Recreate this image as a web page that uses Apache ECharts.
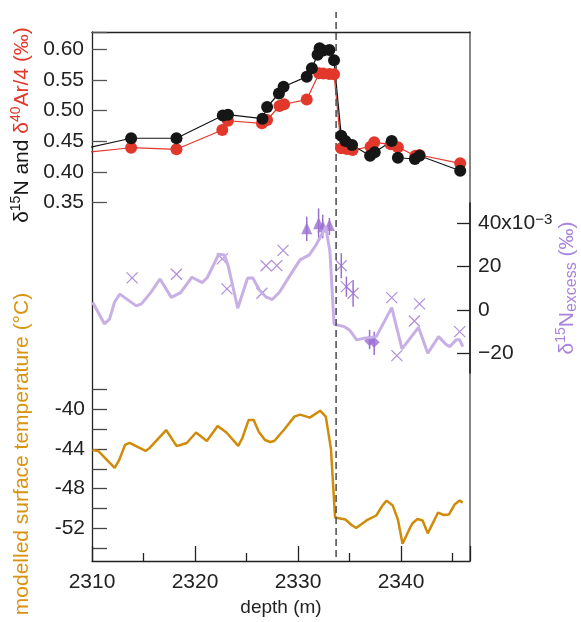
<!DOCTYPE html>
<html>
<head>
<meta charset="utf-8">
<script src="https://cdn.jsdelivr.net/npm/echarts@6/dist/echarts.min.js"></script>
<style>html,body{margin:0;padding:0;background:#fff;}#c{width:581px;height:622px;}</style>
</head>
<body>
<div id="c"></div>
<script>
// ---------- data ----------
const n15Depth = [2307.0, 2313.8, 2318.2, 2322.7, 2323.2, 2326.55, 2327.0, 2328.15, 2328.6, 2330.85, 2331.35, 2331.9, 2332.1, 2332.45, 2333.05, 2333.5, 2334.2, 2334.6, 2335.25, 2337.0, 2337.45, 2339.1, 2339.7, 2341.35, 2341.8, 2345.75];
const n15Value = [0.430, 0.455, 0.455, 0.492, 0.4935, 0.487, 0.506, 0.528, 0.539, 0.5554, 0.569, 0.591, 0.6016, 0.598, 0.599, 0.582, 0.459, 0.4505, 0.444, 0.4266, 0.4321, 0.4505, 0.4233, 0.4212, 0.4266, 0.402];
const arDepth = [2307.0, 2313.8, 2318.2, 2322.65, 2323.2, 2326.5, 2327.0, 2328.2, 2328.65, 2330.85, 2332.05, 2332.45, 2333.05, 2333.5, 2334.2, 2334.75, 2335.3, 2337.05, 2337.4, 2339.0, 2339.7, 2341.4, 2341.8, 2345.75];
const arValue = [0.428, 0.4396, 0.437, 0.4685, 0.4836, 0.4794, 0.4848, 0.5076, 0.5104, 0.518, 0.561, 0.5605, 0.5598, 0.5593, 0.4387, 0.4375, 0.4359, 0.4413, 0.4484, 0.4452, 0.4403, 0.4266, 0.4277, 0.4142];

const exModelDepth = [2310.06, 2311.2, 2311.7, 2312.2, 2312.7, 2314.3, 2314.8, 2315.7, 2316.6, 2317.7, 2318.6, 2319.7, 2320.7, 2321.2, 2322.3, 2322.85, 2323.2, 2324.15, 2325.1, 2325.6, 2326.25, 2326.9, 2327.5, 2328.2, 2329.15, 2330.2, 2331.1, 2331.75, 2332.7, 2333.1, 2333.5, 2334.5, 2335.0, 2335.7, 2336.45, 2337.6, 2339.1, 2340.1, 2341.7, 2342.6, 2343.65, 2344.4, 2344.75, 2345.35, 2345.7, 2346.0];
const exModelValue = [3.6, -6.4, -4.2, 3.8, 7.3, 1.9, 2.8, 8.0, 14.3, 5.8, 8.0, 15.1, 12.6, 15.0, 25.7, 25.4, 20.8, 0.8, 14.6, 14.9, 9.2, 6.0, 4.8, 8.2, 15.4, 23.1, 25.4, 30.0, 38.3, 26.9, -6.6, -7.7, -9.2, -13.8, -13.0, -12.3, 1.1, -18.0, -8.0, -20.0, -12.3, -16.0, -16.9, -13.8, -13.8, -16.9];

const exCrossDepth = [2313.9, 2318.2, 2322.65, 2323.1, 2326.5, 2326.9, 2327.95, 2328.55, 2334.2, 2334.7, 2335.35, 2339.1, 2339.6, 2341.3, 2341.8, 2345.7];
const exCrossValue = [14.8, 16.5, 23.6, 9.7, 7.7, 20.4, 20.5, 27.5, 20.4, 10.8, 7.7, 5.7, -21.1, -5.1, 2.8, -10.0];
const exCrossErrDepth = [2334.2, 2334.7, 2335.35];
const exCrossErrLow = [14.6, 6.1, 1.5];
const exCrossErrHigh = [26.2, 15.4, 13.8];

const exTriDepth = [2330.85, 2332.0, 2332.4, 2333.05];
const exTriValue = [37.7, 40.0, 38.6, 39.2];
const exTriLow = [31.8, 33.1, 33.1, 34.6];
const exTriHigh = [43.1, 46.9, 44.0, 42.5];

const exDiaDepth = [2336.95, 2337.4];
const exDiaValue = [-14.2, -14.9];
const exDiaLow = [-18.1, -20.8];
const exDiaHigh = [-9.2, -10.0];

const tempDepth = [2310.05, 2310.6, 2312.2, 2312.65, 2313.2, 2313.65, 2315.2, 2315.6, 2317.2, 2318.2, 2318.6, 2319.2, 2320.1, 2321.15, 2322.2, 2323.05, 2324.2, 2324.6, 2325.2, 2325.7, 2326.2, 2326.8, 2327.3, 2327.7, 2328.7, 2329.65, 2330.2, 2331.15, 2332.15, 2332.7, 2333.2, 2333.6, 2334.6, 2335.2, 2335.65, 2336.65, 2337.6, 2338.2, 2338.6, 2339.2, 2339.7, 2340.15, 2340.8, 2341.1, 2341.6, 2342.1, 2342.6, 2343.6, 2344.15, 2344.65, 2345.2, 2345.7, 2346.0];
const tempValue = [-44.1, -44.2, -45.9, -45.1, -43.6, -43.4, -44.2, -43.9, -42.1, -43.7, -43.6, -43.4, -42.35, -43.2, -41.7, -42.35, -43.7, -42.9, -41.1, -41.1, -42.3, -43.1, -43.3, -43.2, -42.0, -40.75, -40.55, -40.85, -40.15, -40.75, -44.0, -50.9, -51.1, -51.65, -51.95, -51.2, -50.7, -49.7, -49.2, -49.7, -51.1, -53.55, -52.1, -51.5, -51.05, -51.2, -52.5, -50.4, -50.65, -50.6, -49.6, -49.2, -49.4];

const transitionDepth = [2333.7];

const depthTicks = ['2310', '2320', '2330', '2340'];
const topTickLabels = ['0.35', '0.40', '0.45', '0.50', '0.55', '0.60'];
const excessTickLabels = [-20, 0, 20, 40];
const tempTickLabels = [-40, -44, -48, -52];

// ---------- style ----------
const FONT = "'Liberation Sans', Arial, Helvetica, sans-serif";
const BLACK = '#161616';
const RED = '#e2382b';
const PURPLE = '#9b70d3';
const PURPLE_LIGHT = '#c6b0e6';
const ORANGE = '#d18b0a';
const X_MIN = 2310, X_MAX = 2346.7;
const TICK_FS = 21;

const pairs = (xs, ys) => xs.map((x, i) => [x, ys[i]]);
const triples = (xs, lo, hi) => xs.map((x, i) => [x, lo[i], hi[i]]);

const L = 92, R = 111;
function grid(top, height) {
  return { left: L, right: R, top: top, height: height, containLabel: false, outerBoundsMode: 'none' };
}
function hiddenX(gi) {
  return { type: 'value', gridIndex: gi, min: X_MIN, max: X_MAX, show: false, splitLine: { show: false } };
}

const errRender = (color) => function (params, api) {
  const p1 = api.coord([api.value(0), api.value(1)]);
  const p2 = api.coord([api.value(0), api.value(2)]);
  return { type: 'line', shape: { x1: p1[0], y1: p1[1], x2: p2[0], y2: p2[1] }, style: { stroke: color, lineWidth: 1.5 } };
};

const chart = echarts.init(document.getElementById('c'), null, { renderer: 'canvas' });

const option = {
  backgroundColor: '#ffffff',
  animation: false,
  textStyle: { fontFamily: FONT },
  grid: [
    grid(32, 529),      // 0 frame
    grid(32, 170.7),    // 1 top panel
    grid(223.3, 130),   // 2 excess
    grid(203, 170),     // 3 excess axis line
    grid(389.3, 159),   // 4 temperature
    grid(12, 545)       // 5 transition line
  ],
  xAxis: [
    {
      type: 'value', gridIndex: 0, min: X_MIN, max: X_MAX, interval: 10, position: 'bottom',
      axisLine: { show: true, onZero: false, lineStyle: { color: '#222', width: 1.3 } },
      axisTick: { show: true, inside: true, length: 15, lineStyle: { color: '#222', width: 1.3 } },
      minorTick: { show: true, splitNumber: 2, length: 8, lineStyle: { color: '#222', width: 1.3 } },
      axisLabel: {
        show: true, margin: 11, fontSize: TICK_FS, color: '#222', fontFamily: FONT,
        formatter: v => { const s = String(Math.round(v * 10) / 10); return depthTicks.includes(s) ? s : ''; }
      },
      splitLine: { show: false }, minorSplitLine: { show: false },
      name: 'depth (m)', nameLocation: 'middle', nameGap: 37,
      nameTextStyle: { fontSize: 19, color: '#222', fontFamily: FONT }
    },
    {
      type: 'value', gridIndex: 0, min: X_MIN, max: X_MAX, position: 'top',
      axisLine: { show: true, onZero: false, lineStyle: { color: '#222', width: 1.3 } },
      axisTick: { show: false }, axisLabel: { show: false }, splitLine: { show: false }
    },
    hiddenX(1), hiddenX(2), hiddenX(3), hiddenX(4), hiddenX(5)
  ],
  yAxis: [
    { type: 'value', gridIndex: 0, min: 0, max: 1, position: 'left',
      axisLine: { show: true, onZero: false, lineStyle: { color: '#222', width: 1.3 } },
      axisTick: { show: false }, axisLabel: { show: false }, splitLine: { show: false } },
    { type: 'value', gridIndex: 0, min: 0, max: 1, position: 'right',
      axisLine: { show: true, onZero: false, lineStyle: { color: '#666', width: 1.6 } },
      axisTick: { show: false }, axisLabel: { show: false }, splitLine: { show: false } },
    // 2: top panel
    { type: 'value', gridIndex: 1, min: 0.35, max: 0.6282, interval: 0.05, position: 'left',
      axisLine: { show: false },
      axisTick: { show: true, inside: true, length: 15, lineStyle: { color: '#555', width: 1.3 } },
      axisLabel: { margin: 8, fontSize: TICK_FS, color: '#222', fontFamily: FONT,
        formatter: v => { const s = v.toFixed(2); return topTickLabels.includes(s) ? s : ''; } },
      splitLine: { show: false } },
    // 3: excess
    { type: 'value', gridIndex: 2, min: -20, max: 40, interval: 20, position: 'right',
      axisLine: { show: false },
      axisTick: { show: true, inside: true, length: 13, lineStyle: { color: '#222', width: 1.3 } },
      axisLabel: { margin: 8, fontSize: TICK_FS, color: '#222', fontFamily: FONT,
        formatter: v => {
          if (!excessTickLabels.includes(v)) return '';
          if (v === 40) return '40x10{sup|−3}';
          return v < 0 ? '−' + Math.abs(v) : String(v);
        },
        rich: { sup: { fontSize: 15, verticalAlign: 'top', lineHeight: 10, color: '#222', fontFamily: FONT } } },
      splitLine: { show: false } },
    // 4: excess axis line
    { type: 'value', gridIndex: 3, min: 0, max: 1, position: 'right',
      axisLine: { show: true, onZero: false, lineStyle: { color: '#222', width: 1.6 } },
      axisTick: { show: false }, axisLabel: { show: false }, splitLine: { show: false } },
    // 5: temperature
    { type: 'value', gridIndex: 4, min: -54, max: -38, interval: 2, position: 'left',
      axisLine: { show: false },
      axisTick: { show: true, inside: true, length: 15, lineStyle: { color: '#444', width: 1.3 } },
      axisLabel: { margin: 7, fontSize: TICK_FS, color: '#222', fontFamily: FONT,
        formatter: v => tempTickLabels.includes(v) ? String(v) : '' },
      splitLine: { show: false } },
    // 6: transition
    { type: 'value', gridIndex: 5, min: 0, max: 1, show: false, splitLine: { show: false } }
  ],
  series: [
    { type: 'line', name: 'd40Ar/4', xAxisIndex: 2, yAxisIndex: 2, data: pairs(arDepth, arValue),
      symbol: 'circle', symbolSize: 12, showAllSymbol: true, clip: true,
      lineStyle: { color: RED, width: 1.2 }, itemStyle: { color: RED } },
    { type: 'line', name: 'd15N', xAxisIndex: 2, yAxisIndex: 2, data: pairs(n15Depth, n15Value),
      symbol: 'circle', symbolSize: 12, showAllSymbol: true, clip: true,
      lineStyle: { color: BLACK, width: 1.2 }, itemStyle: { color: BLACK } },

    { type: 'line', name: 'excess model', xAxisIndex: 3, yAxisIndex: 3, data: pairs(exModelDepth, exModelValue),
      symbol: 'none', clip: false, lineStyle: { color: PURPLE_LIGHT, width: 3 } },
    { type: 'custom', xAxisIndex: 3, yAxisIndex: 3, renderItem: errRender(PURPLE),
      data: triples(exCrossErrDepth, exCrossErrLow, exCrossErrHigh).concat(triples(exTriDepth, exTriLow, exTriHigh)).concat(triples(exDiaDepth, exDiaLow, exDiaHigh)),
      encode: { x: 0, y: [1, 2] } },
    { type: 'scatter', xAxisIndex: 3, yAxisIndex: 3, data: pairs(exCrossDepth, exCrossValue), clip: false,
      symbol: 'path://M0,0L10,10M10,0L0,10', symbolSize: 11,
      itemStyle: { color: 'rgba(0,0,0,0)', borderColor: PURPLE, borderWidth: 1.2 } },
    { type: 'scatter', xAxisIndex: 3, yAxisIndex: 3, data: pairs(exTriDepth, exTriValue), clip: false,
      symbol: 'triangle', symbolSize: [11, 12], itemStyle: { color: PURPLE } },
    { type: 'scatter', xAxisIndex: 3, yAxisIndex: 3, data: pairs(exDiaDepth, exDiaValue), clip: false,
      symbol: 'diamond', symbolSize: [11, 11], itemStyle: { color: PURPLE } },

    { type: 'line', name: 'temperature', xAxisIndex: 5, yAxisIndex: 5, data: pairs(tempDepth, tempValue),
      symbol: 'none', clip: false, lineStyle: { color: ORANGE, width: 2.5 } },

    { type: 'line', name: 'transition', xAxisIndex: 6, yAxisIndex: 6,
      data: [[transitionDepth[0], 0], [transitionDepth[0], 1]], symbol: 'none', clip: false,
      lineStyle: { color: '#555', width: 1.6, type: [7, 4] } }
  ],
  graphic: [
    { type: 'text', x: 22, y: 125, rotation: Math.PI / 2,
      style: { text: '{k|δ}{ks|15}{k|N and }{r|δ}{rs|40}{r|Ar/4 (‰)}', align: 'center', verticalAlign: 'middle',
        rich: {
          k: { fill: '#161616', fontSize: 21, fontFamily: FONT, lineHeight: 25 },
          ks: { fill: '#161616', fontSize: 14, fontFamily: FONT, verticalAlign: 'top', lineHeight: 14 },
          r: { fill: RED, fontSize: 21, fontFamily: FONT, lineHeight: 25 },
          rs: { fill: RED, fontSize: 14, fontFamily: FONT, verticalAlign: 'top', lineHeight: 14 }
        } } },
    { type: 'text', x: 22, y: 454, rotation: Math.PI / 2,
      style: { text: 'modelled surface temperature (°C)', align: 'center', verticalAlign: 'middle',
        fill: '#d9930e', fontSize: 21, fontFamily: FONT } },
    { type: 'text', x: 567, y: 288, rotation: Math.PI / 2,
      style: { text: '{p|δ}{ps|15}{p|N}{pb|excess}{p| (‰)}', align: 'center', verticalAlign: 'middle',
        rich: {
          p: { fill: '#a884dc', fontSize: 21, fontFamily: FONT, lineHeight: 25 },
          ps: { fill: '#a884dc', fontSize: 14, fontFamily: FONT, verticalAlign: 'top', lineHeight: 14 },
          pb: { fill: '#a884dc', fontSize: 16, fontFamily: FONT, verticalAlign: 'bottom', lineHeight: 16 }
        } } }
  ]
};
chart.setOption(option);
</script>
</body>
</html>
